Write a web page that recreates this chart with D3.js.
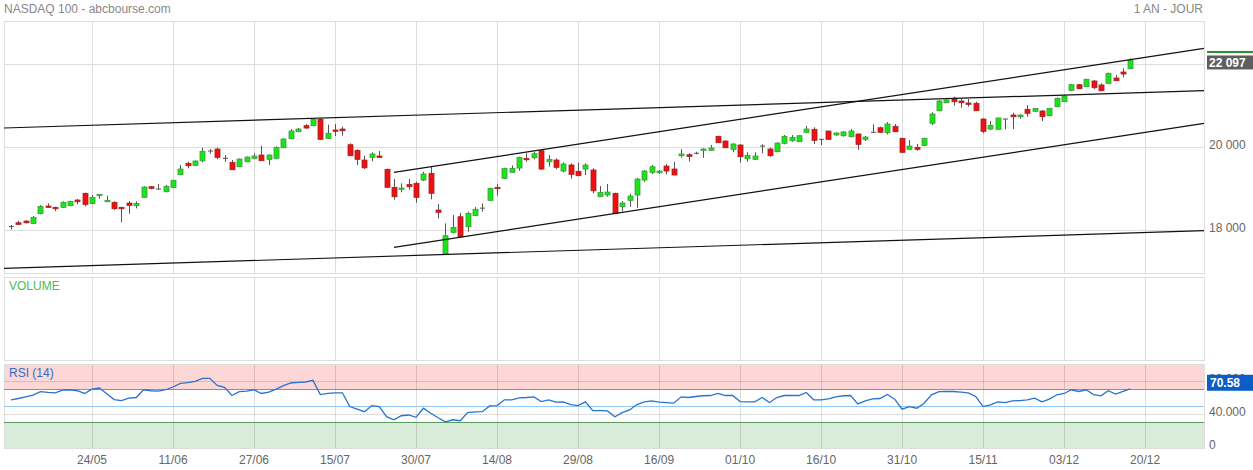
<!DOCTYPE html>
<html>
<head>
<meta charset="utf-8">
<script src="https://cdn.jsdelivr.net/npm/d3@7"></script>
<style>
  body { margin: 0; background: #fff; }
  svg { display: block; font-family: "Liberation Sans", Arial, sans-serif; }
</style>
</head>
<body>
<div id="chart"></div>
<script>
// daily candles, first one at index 0 (9 May) ... last at index 152 (16 Dec)
const opens = [18074,18175,18216,18160,18392,18577,18546,18546,18585,18722,
  18884,18642,18826,18681,18667,18546,18650,18585,18787,19043,
  18987,18922,19028,19332,19607,19558,19669,19903,19951,19727,
  19631,19525,19645,19727,19806,19703,19727,19982,20199,20368,
  20513,20513,20667,20209,20409,20433,20055,19920,19686,19751,
  19782,19462,19028,18980,19100,19125,19204,19365,18481,17421,
  17944,18319,18078,18344,18522,18715,19028,19245,19390,19493,
  19727,19741,19910,19645,19686,19421,19566,19414,19469,19445,
  18802,18843,18884,18560,18715,18843,19204,19390,19380,19541,
  19469,19790,19814,19848,19920,19920,20257,20144,19944,20048,
  19717,19703,20023,19951,19886,20088,20151,20127,20354,20426,
  20185,20385,20289,20272,20248,20313,20185,20354,20464,20344,
  20498,20209,19944,19992,20040,20571,20874,21067,21173,21108,
  21060,21053,20674,20433,20426,20674,20771,20730,20908,20860,
  20867,20754,20971,21091,21366,21501,21453,21590,21494,21535,
  21662,21807,21886];
const highs = [18120,18223,18233,18336,18601,18642,18560,18691,18705,18746,
  18898,18843,18867,18826,18691,18560,18698,18691,19052,19059,
  19108,19084,19211,19566,19645,19679,19982,19951,19982,19806,
  19686,19722,19771,19848,20031,19823,20016,20209,20433,20457,
  20554,20691,20691,20537,20554,20489,20088,19944,19790,19872,
  19903,19476,19228,19125,19228,19163,19404,19525,18626,18160,
  18360,18416,18440,18553,18642,19018,19108,19500,19558,19766,
  19848,19886,19934,19806,19727,19631,19607,19621,19607,19486,
  19059,19108,18898,18698,18874,19259,19445,19566,19445,19590,
  19645,19951,19848,19886,19968,20048,20272,20161,20088,20064,
  19872,19872,20064,19982,20113,20289,20289,20281,20505,20474,
  20192,20392,20354,20385,20433,20325,20264,20546,20489,20602,
  20554,20223,20168,20072,20223,20836,21132,21149,21212,21173,
  21156,21091,20691,20626,20705,20679,20826,20787,21012,20939,
  20891,20939,21197,21245,21518,21518,21645,21614,21535,21790,
  21735,21896,22137];
const lows = [18016,18120,18160,18151,18377,18536,18457,18536,18577,18618,
  18570,18618,18753,18674,18488,18185,18392,18522,18777,18980,
  18980,18908,19004,19325,19486,19549,19631,19838,19703,19645,
  19445,19517,19638,19710,19669,19566,19723,19975,20190,20360,
  20433,20498,20168,20199,20264,20272,19780,19566,19469,19655,
  19741,19018,18729,18908,18970,18657,19180,18739,18281,17396,
  17919,17823,17958,18336,18440,18705,18826,19235,19380,19428,
  19645,19703,19445,19525,19469,19390,19235,19300,19325,18884,
  18794,18802,18385,18450,18560,18536,19163,19349,19349,19341,
  19325,19741,19645,19823,19741,19915,20096,19975,19872,19621,
  19645,19686,19848,19766,19879,20064,20127,20120,20344,20072,
  20048,20175,20272,20248,20233,19934,20144,20337,20344,20305,
  20361,19862,19939,19910,20023,20530,20869,21060,20995,20946,
  20971,20869,20330,20409,20421,20426,20433,20681,20730,20850,
  20626,20746,20963,21084,21356,21397,21445,21397,21342,21525,
  21590,21679,21880];
const closes = [18083,18136,18175,18305,18570,18546,18512,18667,18691,18681,
  18618,18787,18859,18715,18512,18512,18594,18642,19035,19004,
  18983,19052,19197,19469,19549,19662,19896,19898,19751,19723,
  19452,19710,19758,19782,19669,19806,19992,20192,20385,20433,
  20457,20667,20185,20330,20378,20392,19790,19703,19500,19831,
  19751,19028,18802,19011,19043,18787,19349,18884,18426,17862,
  18064,17837,18401,18498,18527,19004,18994,19486,19480,19751,
  19693,19838,19469,19703,19510,19590,19341,19308,19566,18946,
  18908,18915,18401,18650,18818,19228,19421,19525,19421,19421,
  19325,19831,19775,19846,19951,19975,20103,19982,20072,19766,
  19799,19782,20019,19790,20096,20257,20233,20272,20433,20161,
  20180,20185,20337,20361,20385,20064,20240,20349,20354,20554,
  20368,19872,20023,19944,20209,20795,21108,21132,21091,21067,
  21028,20874,20378,20522,20698,20672,20730,20771,20812,20932,
  20730,20932,21173,21228,21501,21404,21631,21428,21356,21776,
  21597,21759,22097];
const rsi = [57.2,58.8,60.8,62.9,67,66.1,65.7,69,69.4,68.2,
  64.9,70.2,71.5,64.5,57.5,56.3,59.2,60,69.4,68.2,
  67.8,69.4,72.7,77.1,78,79.6,83.2,83.2,74.7,72.2,
  62.4,67,67.8,69.4,64.9,66.6,70.2,74.3,77.6,78.3,
  78.8,80.8,63.6,64.9,65.7,65.7,49,45.8,42.8,50.2,
  49,36.7,33,37.9,38.8,36,47,40.9,35.5,30.6,
  33,31.8,41.6,42.5,42.8,49.8,50.2,57.2,57.2,59.6,
  60,60.8,55.1,57.2,54.3,54.7,51.4,50.2,54.7,44.1,
  44.1,43.7,36.7,41.6,44.9,51.4,54.7,55.9,54.3,53.9,
  53.1,60.8,60,61.2,62.1,62.4,64.9,62.4,62.4,55.1,
  54.7,54.7,60,53.9,60,62.4,62.4,62.4,66.1,57.2,
  57.2,58.4,60.8,62.1,62.4,52.3,55.9,58.4,58.8,63.6,
  58,45.8,49,47,53.1,63.3,67,67.3,67.3,66.6,
  65.7,61.2,49,51,54.7,53.9,55.9,56.3,57.2,59.2,
  54.7,58,63.3,64.9,69.4,67.3,69.4,63.6,62.1,68.2,
  64.1,67.3,70.58];

const tickIdx = [11,22,33,44,55,66,77,88,99,110,121,132,143,154];
const tickLabels = ["24/05","11/06","27/06","15/07","30/07","14/08","29/08",
  "16/09","01/10","16/10","31/10","15/11","03/12","20/12"];
const priceTicks = [18000, 20000, 22000];
const rsiTicks = [0, 40, 80];

// trend lines drawn on the chart: [index, price] pairs
const trendLines = [
  [[-0.95, 20458], [162, 21357]],
  [[52, 19390], [162, 22378]],
  [[52, 17583], [162, 20571]],
  [[-0.95, 17077], [162, 17983]]
];

const W = 1253, H = 470;
const L = 4, R = 1204;
const main = {top: 21, bottom: 273};
const vol = {top: 277, bottom: 360};
const rsiP = {top: 364, bottom: 448};

const svg = d3.select("#chart").append("svg")
  .attr("width", W).attr("height", H);

const x = d3.scaleLinear().domain([-0.95, 162]).range([L, R]);
const y = d3.scaleLinear().domain([16964, 23036]).range([main.bottom, main.top]);
const yR = d3.scaleLinear().domain([0, 100]).range([447, 364.5]);

const fmt = v => d3.format(",")(v).replace(/,/g, " ");
const snap = v => Math.round(v) + 0.5;

// titles
svg.append("text").attr("x", 4).attr("y", 13)
  .attr("font-size", 12).attr("fill", "#888").text("NASDAQ 100 - abcbourse.com");
svg.append("text").attr("x", 1203).attr("y", 13).attr("text-anchor", "end")
  .attr("font-size", 12).attr("fill", "#888").text("1 AN - JOUR");

// RSI zones
svg.append("rect").attr("x", L).attr("y", rsiP.top).attr("width", R - L)
  .attr("height", yR(70) - rsiP.top).attr("fill", "#fdd6d6");
svg.append("rect").attr("x", L).attr("y", yR(30)).attr("width", R - L)
  .attr("height", rsiP.bottom - yR(30)).attr("fill", "#d9ebd9");

// panel grids
[main, vol, rsiP].forEach(p => {
  svg.append("g").selectAll("line").data(tickIdx).join("line")
    .attr("x1", d => snap(x(d))).attr("x2", d => snap(x(d)))
    .attr("y1", p.top).attr("y2", p.bottom)
    .attr("stroke", "rgba(0,0,0,0.13)");
  svg.append("rect").attr("x", L + 0.5).attr("y", p.top + 0.5)
    .attr("width", R - L).attr("height", p.bottom - p.top)
    .attr("fill", "none").attr("stroke", "#ddd");
});

svg.append("g").selectAll("line").data(priceTicks).join("line")
  .attr("x1", L).attr("x2", R)
  .attr("y1", d => snap(y(d))).attr("y2", d => snap(y(d)))
  .attr("stroke", "#ddd");
svg.append("g").selectAll("text").data(priceTicks).join("text")
  .attr("x", 1209).attr("y", d => y(d) + 2)
  .attr("font-size", 12).attr("fill", "#666").text(d => fmt(d));

svg.append("g").selectAll("line").data(rsiTicks.filter(d => d > 0)).join("line")
  .attr("x1", L).attr("x2", R)
  .attr("y1", d => snap(yR(d))).attr("y2", d => snap(yR(d)))
  .attr("stroke", "rgba(0,0,0,0.13)");
svg.append("g").selectAll("text").data(rsiTicks).join("text")
  .attr("x", 1209).attr("y", d => yR(d) + 2)
  .attr("font-size", 12).attr("fill", "#666")
  .text(d => d === 0 ? "0" : d3.format(".3f")(d));

// RSI reference lines
[[70, "#e86a6a"], [50, "#93c9f5"], [30, "#5c9c5c"]].forEach(([v, c]) => {
  svg.append("line").attr("x1", L).attr("x2", R)
    .attr("y1", snap(yR(v))).attr("y2", snap(yR(v))).attr("stroke", c);
});

// x labels
svg.append("g").selectAll("text").data(tickIdx).join("text")
  .attr("x", d => x(d)).attr("y", 464).attr("text-anchor", "middle")
  .attr("font-size", 12).attr("fill", "#666").text((d, i) => tickLabels[i]);

// panel captions
svg.append("text").attr("x", 9).attr("y", 290).attr("font-size", 12)
  .attr("fill", "#4cbb4c").text("VOLUME");
svg.append("text").attr("x", 9).attr("y", 377).attr("font-size", 12)
  .attr("fill", "#2a6fcc").text("RSI (14)");

// candles
const candles = d3.range(opens.length).map(i => ({
  i, o: opens[i], h: highs[i], l: lows[i], c: closes[i]
}));
const cg = svg.append("g");
cg.selectAll("line").data(candles).join("line")
  .attr("x1", d => snap(x(d.i))).attr("x2", d => snap(x(d.i)))
  .attr("y1", d => y(d.h)).attr("y2", d => y(d.l))
  .attr("stroke", "#555");
cg.selectAll("rect").data(candles).join("rect")
  .attr("x", d => Math.round(x(d.i)) - 2)
  .attr("width", 5)
  .attr("y", d => Math.abs(d.c - d.o) < 10 ? y(Math.max(d.o, d.c)) - 0.5 : y(Math.max(d.o, d.c)))
  .attr("height", d => Math.max(1, Math.abs(y(d.o) - y(d.c))))
  .attr("fill", d => Math.abs(d.c - d.o) < 10 ? "#555" : (d.c > d.o ? "#19e619" : "#ee1111"))
  .attr("stroke", d => Math.abs(d.c - d.o) < 10 ? "none" : (d.c > d.o ? "#3c9a3c" : "#a42020"))
  .attr("stroke-width", 0.8);

// trend lines
svg.append("g").selectAll("line").data(trendLines).join("line")
  .attr("x1", d => x(d[0][0])).attr("y1", d => y(d[0][1]))
  .attr("x2", d => x(d[1][0])).attr("y2", d => y(d[1][1]))
  .attr("stroke", "#111").attr("stroke-width", 1.2);

// RSI line
svg.append("path").datum(rsi)
  .attr("d", d3.line().x((d, i) => x(i)).y(d => yR(d)))
  .attr("fill", "none").attr("stroke", "#2a72d0").attr("stroke-width", 1.3);

// last value tags
const lastC = closes[closes.length - 1];
svg.append("rect").attr("x", 1207).attr("y", y(lastC) - 9).attr("width", 46)
  .attr("height", 2).attr("fill", "#2f8f2f");
svg.append("rect").attr("x", 1207).attr("y", y(lastC) - 4.5).attr("width", 46)
  .attr("height", 14).attr("fill", "#5e5e5e");
svg.append("text").attr("x", 1209).attr("y", y(lastC) + 7)
  .attr("font-size", 12).attr("font-weight", "bold").attr("fill", "#fff").text(fmt(lastC));

const lastR = rsi[rsi.length - 1];
svg.append("rect").attr("x", 1207).attr("y", yR(lastR) - 14).attr("width", 46)
  .attr("height", 16).attr("fill", "#0b5ec6");
svg.append("text").attr("x", 1210).attr("y", yR(lastR) - 1.5)
  .attr("font-size", 12).attr("font-weight", "bold").attr("fill", "#fff")
  .text(lastR.toFixed(2));
</script>
</body>
</html>
